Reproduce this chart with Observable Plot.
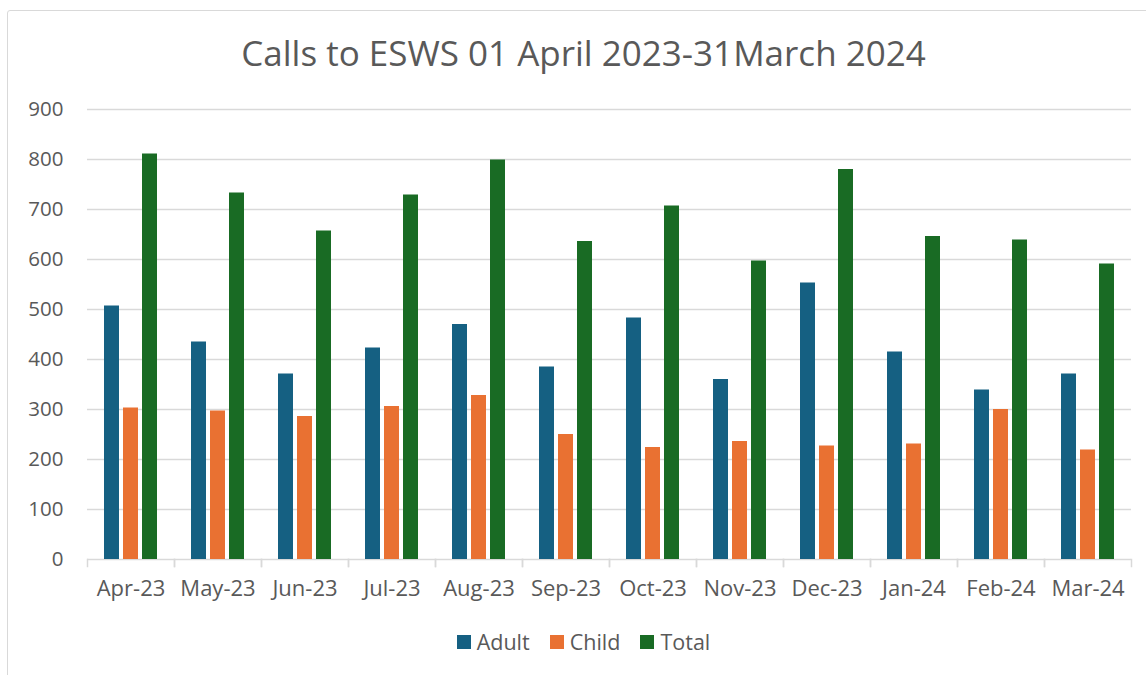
<!DOCTYPE html>
<html>
<head>
<meta charset="utf-8">
<script src="https://cdn.jsdelivr.net/npm/d3@7"></script>
<script src="https://cdn.jsdelivr.net/npm/@observablehq/plot@0.6"></script>
<style>
  html, body { margin: 0; padding: 0; background: #fff; }
  body { width: 1146px; height: 675px; overflow: hidden; position: relative; font-family: "Open Sans", "Liberation Sans", sans-serif; color: #595959; }
  #border { position: absolute; left: 7px; top: 10px; width: 1170px; height: 700px; border: 1.5px solid #d9d9d9; border-radius: 3px; box-sizing: border-box; }
  #title { position: absolute; left: 7px; width: 1153px; top: 28px; text-align: center; font-size: 35px; line-height: 50px; color: #595959; white-space: nowrap; }
  #chart { position: absolute; left: 0; top: 90px; }
  #legend { position: absolute; left: 7px; width: 1153px; top: 628px; display: flex; justify-content: center; align-items: center; font-size: 21.5px; line-height: 28px; }
  .item { display: flex; align-items: center; margin: 0 10px; }
  .sw { width: 14px; height: 14px; margin-right: 6px; }
</style>
</head>
<body>
<div id="border"></div>
<div id="title"></div>
<div id="chart"></div>
<div id="legend"></div>
<script>
const titleText = "Calls to ESWS 01 April 2023-31March 2024";
const months = ["Apr-23","May-23","Jun-23","Jul-23","Aug-23","Sep-23","Oct-23","Nov-23","Dec-23","Jan-24","Feb-24","Mar-24"];
const seriesNames = ["Adult","Child","Total"];
const seriesColors = ["#156082","#E97132","#196B24"];
const adult = [507,435,371,423,470,385,483,360,553,415,339,371];
const child = [303,297,286,306,328,250,224,236,227,231,300,219];
const total = [811,733,657,729,799,636,707,597,780,646,639,591];
const yTicks = [0,100,200,300,400,500,600,700,800,900];

const valuesBySeries = {Adult: adult, Child: child, Total: total};
const data = months.flatMap((m, i) => seriesNames.map(s => ({month: m, series: s, value: valuesBySeries[s][i]})));

document.getElementById("title").textContent = titleText;

const font = '"Open Sans", "Liberation Sans", sans-serif';
const chart = Plot.plot({
  width: 1146,
  height: 519,
  marginTop: 19,
  marginBottom: 50,
  marginLeft: 86,
  marginRight: 15,
  style: {fontFamily: font, fontSize: "20px", color: "#595959", background: "transparent", overflow: "visible"},
  fx: {domain: months, padding: 0, label: null, axis: null},
  x: {domain: seriesNames, paddingInner: 0.207, paddingOuter: 0.86, axis: null},
  y: {domain: [0, 900], axis: null},
  color: {domain: seriesNames, range: seriesColors},
  marks: [
    Plot.ruleY(yTicks, {stroke: "#d9d9d9", strokeWidth: 1.5, strokeOpacity: 1}),
    Plot.frame({anchor: "left", stroke: "#d9d9d9", strokeWidth: 1.5, strokeOpacity: 1, insetTop: 450, insetBottom: -7}),
    Plot.frame({anchor: "right", stroke: "#d9d9d9", strokeWidth: 1.5, strokeOpacity: 1, insetTop: 450, insetBottom: -7}),
    Plot.barY(data, {fx: "month", x: "series", y: "value", fill: "series"}),
    Plot.axisY(yTicks, {tickSize: 0, tickPadding: 24, label: null, fontSize: 20.5}),
    Plot.axisFx({anchor: "bottom", tickSize: 0, tickPadding: 21, label: null, fontSize: 22})
  ]
});
document.getElementById("chart").appendChild(chart);

const legend = document.getElementById("legend");
seriesNames.forEach((s, i) => {
  const item = document.createElement("div");
  item.className = "item";
  const sw = document.createElement("div");
  sw.className = "sw";
  sw.style.background = seriesColors[i];
  const label = document.createElement("span");
  label.textContent = s;
  item.appendChild(sw);
  item.appendChild(label);
  legend.appendChild(item);
});
</script>
</body>
</html>
